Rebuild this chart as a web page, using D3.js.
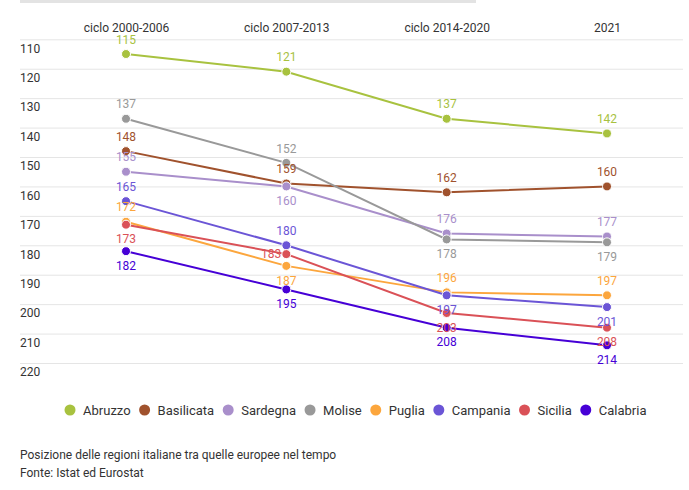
<!DOCTYPE html>
<html>
<head>
<meta charset="utf-8">
<script src="https://cdn.jsdelivr.net/npm/d3@7"></script>
<style>
  html, body { margin: 0; padding: 0; background: #fff; }
  svg { display: block; font-family: Roboto, "Noto Sans", sans-serif; }
</style>
</head>
<body>
<svg id="chart" width="689" height="490"></svg>
<script>
// ---- data ----
const categories = ["ciclo 2000-2006", "ciclo 2007-2013", "ciclo 2014-2020", "2021"];
const seriesNames = ["Abruzzo", "Basilicata", "Sardegna", "Molise", "Puglia", "Campania", "Sicilia", "Calabria"];
const abruzzo    = [115, 121, 137, 142];
const basilicata = [148, 159, 162, 160];
const sardegna   = [155, 160, 176, 177];
const molise     = [137, 152, 178, 179];
const puglia     = [172, 187, 196, 197];
const campania   = [165, 180, 197, 201];
const sicilia    = [173, 183, 203, 208];
const calabria   = [182, 195, 208, 214];
const yTicks = [110, 120, 130, 140, 150, 160, 170, 180, 190, 200, 210, 220];
const footerLines = ["Posizione delle regioni italiane tra quelle europee nel tempo", "Fonte: Istat ed Eurostat"];

// ---- styling / layout config ----
const colors = ["#a8c23f", "#a0522d", "#a98fcb", "#999999", "#fca63d", "#6b55d6", "#da5157", "#4600d6"];
// value label placement: a = above, b = below, l = left
const labelPlacement = [
  ["a","a","a","a"],
  ["a","a","a","a"],
  ["a","b","a","a"],
  ["a","a","b","b"],
  ["a","b","a","a"],
  ["a","a","b","b"],
  ["b","l","b","b"],
  ["b","b","b","b"]
];

const values = [abruzzo, basilicata, sardegna, molise, puglia, campania, sicilia, calabria];
const series = seriesNames.map((name, i) => ({
  name, color: colors[i], place: labelPlacement[i],
  points: categories.map((c, j) => ({ cat: c, v: values[i][j] }))
}));

const svg = d3.select("#chart");

// top grey bar
svg.append("rect").attr("x", 20).attr("y", 0).attr("width", 456).attr("height", 3).attr("fill", "#e3e3e3");

const x = d3.scalePoint().domain(categories).range([126, 607]);
const y = d3.scaleLinear().domain([110, 220]).range([39.3, 363]);

// y gridlines + labels
const gy = svg.append("g").attr("transform", "translate(20,0)")
  .call(d3.axisRight(y).tickValues(yTicks).tickSize(663).tickFormat(d => d));
gy.select(".domain").remove();
gy.selectAll(".tick line").attr("stroke", "#e5e5e5").attr("stroke-width", 1);
gy.selectAll(".tick text")
  .attr("x", 0).attr("y", 9).attr("text-anchor", "start")
  .attr("fill", "#333").style("font-size", "12px").style("font-family", "Roboto");

// x header labels
const gx = svg.append("g").attr("transform", "translate(0,32)")
  .call(d3.axisTop(x).tickSize(0).tickPadding(0));
gx.select(".domain").remove();
gx.selectAll(".tick text").attr("dy", 0).attr("fill", "#333")
  .style("font-size", "12px").style("font-family", "Roboto");

// lines
const line = d3.line().x(d => x(d.cat)).y(d => y(d.v));
const gl = svg.append("g");
series.forEach(s => {
  gl.append("path").datum(s.points)
    .attr("d", line).attr("fill", "none")
    .attr("stroke", s.color).attr("stroke-width", 2);
  gl.selectAll(null).data(s.points).enter().append("circle")
    .attr("cx", d => x(d.cat)).attr("cy", d => y(d.v)).attr("r", 4.5)
    .attr("fill", s.color).attr("stroke", "#fff").attr("stroke-width", 1);
});

// value labels
const gt = svg.append("g");
series.forEach(s => {
  s.points.forEach((p, j) => {
    const pl = s.place[j];
    const cx = x(p.cat), cy = y(p.v);
    let tx = cx, ty = cy, anchor = "middle";
    if (pl === "a") ty = cy - 14.5;
    else if (pl === "b") ty = cy + 14.5;
    else { tx = cx - 5; anchor = "end"; }
    gt.append("text").attr("x", tx).attr("y", ty).attr("dy", "0.35em")
      .attr("text-anchor", anchor).attr("fill", s.color)
      .style("font-size", "12px").text(p.v);
  });
});

// legend
const lg = svg.append("g");
let lx = 0;
series.forEach(s => {
  const it = lg.append("g").attr("transform", `translate(${lx},0)`);
  it.append("circle").attr("cx", 5.5).attr("cy", 0).attr("r", 5.5).attr("fill", s.color);
  const t = it.append("text").attr("x", 18.5).attr("y", 0).attr("dy", "0.35em")
    .attr("fill", "#333").style("font-size", "13px").text(s.name);
  lx += 18.5 + t.node().getComputedTextLength() + 8.5;
});
const lw = lx - 8.5;
lg.attr("transform", `translate(${355.5 - lw / 2},410)`);

// footer
svg.append("g").selectAll("text").data(footerLines).enter().append("text")
  .attr("x", 20).attr("y", (d, i) => 455 + i * 17.5).attr("dy", "0.35em")
  .attr("fill", "#333").style("font-size", "12px").text(d => d);
</script>
</body>
</html>
